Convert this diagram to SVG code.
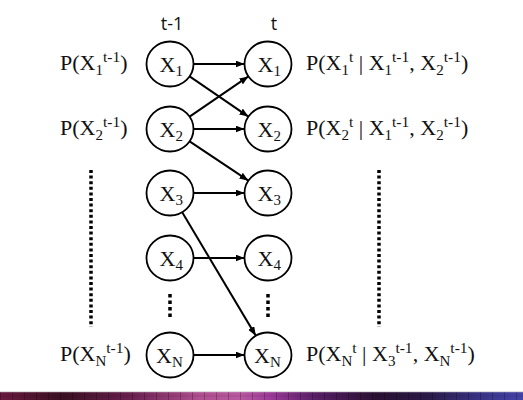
<svg xmlns="http://www.w3.org/2000/svg" width="523" height="400" viewBox="0 0 523 400">
<style>
.nd{fill:#fff;stroke:#000;stroke-width:1.8}
.ser{font-family:"Liberation Serif","Times New Roman",serif;fill:#111}
.lbl{font-size:22px}
.nt{font-size:22px}
.sb{font-size:15px}
.sp{font-size:15.5px}
.hdr{font-family:"Open Sans","Liberation Sans",sans-serif;font-size:18px;fill:#111}
.e{stroke:#000;stroke-width:2;fill:none;marker-end:url(#ah)}
.dots{stroke:#000;stroke-width:3.5;stroke-dasharray:3 2.6;fill:none}
.sdots{stroke:#000;stroke-width:3.5;stroke-dasharray:3.5 3;fill:none}
</style>
<defs>
<marker id="ah" viewBox="0 0 9 7" refX="9" refY="3.5" markerWidth="9" markerHeight="7" markerUnits="userSpaceOnUse" orient="auto">
<path d="M0,0 L9,3.5 L0,7 z" fill="#000"/>
</marker>
<linearGradient id="band" x1="0" y1="0" x2="1" y2="0">
<stop offset="0" stop-color="#6a1a40"/>
<stop offset="0.12" stop-color="#3a1022"/>
<stop offset="0.25" stop-color="#6a2050"/>
<stop offset="0.38" stop-color="#b05090"/>
<stop offset="0.46" stop-color="#b858a0"/>
<stop offset="0.52" stop-color="#9a3a98"/>
<stop offset="0.6" stop-color="#5a2068"/>
<stop offset="0.72" stop-color="#2a1032"/>
<stop offset="0.82" stop-color="#2a1a48"/>
<stop offset="0.92" stop-color="#3a3488"/>
<stop offset="1" stop-color="#4444a8"/>
</linearGradient>
<pattern id="grid" width="12" height="8" patternUnits="userSpaceOnUse">
<line x1="0.5" y1="0" x2="0.5" y2="8" stroke="#000" stroke-opacity="0.25" stroke-width="1"/>
<line x1="0" y1="4" x2="12" y2="4" stroke="#000" stroke-opacity="0.15" stroke-width="0.8"/>
</pattern>
</defs>
<rect width="523" height="400" fill="#fff"/>
<g id="band-bottom">
<rect x="0" y="392" width="523" height="8" fill="url(#band)"/>
<rect x="0" y="392" width="523" height="8" fill="url(#grid)"/>
<line x1="0" y1="391.8" x2="523" y2="391.8" stroke="#ccc" stroke-width="0.8"/>
</g>
<g id="headers">
<text class="hdr" x="172" y="30" text-anchor="middle">t-1</text>
<text class="hdr" x="274" y="30" text-anchor="middle">t</text>
</g>
<g id="connectors">
<line class="e" x1="193.5" y1="64" x2="244.5" y2="64"/>
<line class="e" x1="189.6" y1="76.4" x2="248.4" y2="116.6"/>
<line class="e" x1="189.6" y1="116.6" x2="248.4" y2="76.4"/>
<line class="e" x1="193.5" y1="129" x2="244.5" y2="129"/>
<line class="e" x1="189.6" y1="141.3" x2="248.4" y2="180.7"/>
<line class="e" x1="193.5" y1="193" x2="244.5" y2="193"/>
<line class="e" x1="182.2" y1="212.3" x2="255.8" y2="335.7"/>
<line class="e" x1="193.5" y1="258" x2="244.5" y2="258"/>
<line class="e" x1="193.5" y1="355" x2="244.5" y2="355"/>
</g>
<g id="ellipsis">
<line class="dots" x1="91" y1="170" x2="91" y2="327"/>
<line class="dots" x1="379" y1="170" x2="379" y2="327"/>
<line class="sdots" x1="170" y1="294" x2="170" y2="320"/>
<line class="sdots" x1="268" y1="294" x2="268" y2="320"/>
</g>
<g id="n-x1-prev"><ellipse class="nd" cx="170" cy="64" rx="23.5" ry="22.5"/><text class="ser nt" x="159.5" y="72">X<tspan class="sb" dy="4">1</tspan></text></g>
<g id="n-x2-prev"><ellipse class="nd" cx="170" cy="129" rx="23.5" ry="22.5"/><text class="ser nt" x="159.5" y="137">X<tspan class="sb" dy="4">2</tspan></text></g>
<g id="n-x3-prev"><ellipse class="nd" cx="170" cy="193" rx="23.5" ry="22.5"/><text class="ser nt" x="159.5" y="201">X<tspan class="sb" dy="4">3</tspan></text></g>
<g id="n-x4-prev"><ellipse class="nd" cx="170" cy="258" rx="23.5" ry="22.5"/><text class="ser nt" x="159.5" y="266">X<tspan class="sb" dy="4">4</tspan></text></g>
<g id="n-xn-prev"><ellipse class="nd" cx="170" cy="355" rx="23.5" ry="22.5"/><text class="ser nt" x="156" y="363">X<tspan class="sb" dy="4">N</tspan></text></g>
<g id="n-x1-cur"><ellipse class="nd" cx="268" cy="64" rx="23.5" ry="22.5"/><text class="ser nt" x="257.5" y="72">X<tspan class="sb" dy="4">1</tspan></text></g>
<g id="n-x2-cur"><ellipse class="nd" cx="268" cy="129" rx="23.5" ry="22.5"/><text class="ser nt" x="257.5" y="137">X<tspan class="sb" dy="4">2</tspan></text></g>
<g id="n-x3-cur"><ellipse class="nd" cx="268" cy="193" rx="23.5" ry="22.5"/><text class="ser nt" x="257.5" y="201">X<tspan class="sb" dy="4">3</tspan></text></g>
<g id="n-x4-cur"><ellipse class="nd" cx="268" cy="258" rx="23.5" ry="22.5"/><text class="ser nt" x="257.5" y="266">X<tspan class="sb" dy="4">4</tspan></text></g>
<g id="n-xn-cur"><ellipse class="nd" cx="268" cy="355" rx="23.5" ry="22.5"/><text class="ser nt" x="254" y="363">X<tspan class="sb" dy="4">N</tspan></text></g>
<g id="labels-prev">
<text class="ser lbl" x="60" y="70">P(X<tspan class="sb" dy="5">1</tspan><tspan class="sp" dy="-13">t-1</tspan><tspan dy="8">)</tspan></text>
<text class="ser lbl" x="60" y="135">P(X<tspan class="sb" dy="5">2</tspan><tspan class="sp" dy="-13">t-1</tspan><tspan dy="8">)</tspan></text>
<text class="ser lbl" x="60" y="361">P(X<tspan class="sb" dy="5">N</tspan><tspan class="sp" dy="-13">t-1</tspan><tspan dy="8">)</tspan></text>
</g>
<g id="labels-cur">
<text class="ser lbl" x="306" y="70">P(X<tspan class="sb" dy="5">1</tspan><tspan class="sp" dy="-13">t</tspan><tspan dy="8"> | X</tspan><tspan class="sb" dy="5">1</tspan><tspan class="sp" dy="-13">t-1</tspan><tspan dy="8">, X</tspan><tspan class="sb" dy="5">2</tspan><tspan class="sp" dy="-13">t-1</tspan><tspan dy="8">)</tspan></text>
<text class="ser lbl" x="306" y="135">P(X<tspan class="sb" dy="5">2</tspan><tspan class="sp" dy="-13">t</tspan><tspan dy="8"> | X</tspan><tspan class="sb" dy="5">1</tspan><tspan class="sp" dy="-13">t-1</tspan><tspan dy="8">, X</tspan><tspan class="sb" dy="5">2</tspan><tspan class="sp" dy="-13">t-1</tspan><tspan dy="8">)</tspan></text>
<text class="ser lbl" x="306" y="361">P(X<tspan class="sb" dy="5">N</tspan><tspan class="sp" dy="-13">t</tspan><tspan dy="8"> | X</tspan><tspan class="sb" dy="5">3</tspan><tspan class="sp" dy="-13">t-1</tspan><tspan dy="8">, X</tspan><tspan class="sb" dy="5">N</tspan><tspan class="sp" dy="-13">t-1</tspan><tspan dy="8">)</tspan></text>
</g>
</svg>
